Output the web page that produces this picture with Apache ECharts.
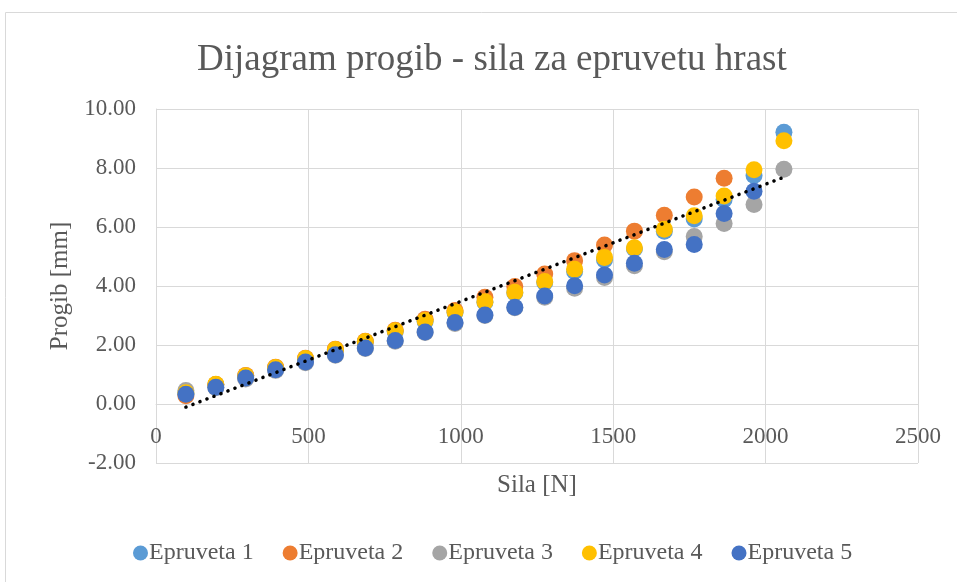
<!DOCTYPE html>
<html>
<head>
<meta charset="utf-8">
<script src="https://cdn.jsdelivr.net/npm/echarts@6/dist/echarts.min.js"></script>
<style>html,body{margin:0;padding:0;background:#fff;}#c{width:957px;height:582px;}</style>
</head>
<body>
<div id="c"></div>
<script>
// Force values [N] (x)
const force = [98.1, 196.2, 294.3, 392.4, 490.5, 588.6, 686.7, 784.8, 882.9, 981.0, 1079.1,
  1177.2, 1275.3, 1373.4, 1471.5, 1569.6, 1667.7, 1765.8, 1863.9, 1962.0, 2060.1];
// Deflection [mm] per specimen
const epruveta1 = [0.36, 0.65, 0.95, 1.22, 1.52, 1.82, 2.10, 2.46, 2.80, 3.10, 3.45,
  3.76, 4.12, 4.49, 4.88, 5.26, 5.86, 6.27, 6.93, 7.75, 9.21];
const epruveta2 = [0.28, 0.66, 0.97, 1.25, 1.55, 1.86, 2.13, 2.50, 2.87, 3.17, 3.62,
  3.98, 4.41, 4.86, 5.39, 5.86, 6.40, 7.02, 7.65];
const epruveta3 = [0.46, 0.55, 0.85, 1.14, 1.40, 1.65, 1.88, 2.13, 2.42, 2.73, 3.00,
  3.26, 3.62, 3.92, 4.29, 4.69, 5.16, 5.68, 6.12, 6.76, 7.96];
const epruveta4 = [0.38, 0.67, 0.96, 1.24, 1.54, 1.85, 2.12, 2.48, 2.83, 3.12, 3.47,
  3.79, 4.15, 4.57, 4.97, 5.30, 5.92, 6.38, 7.05, 7.94, 8.92];
const epruveta5 = [0.33, 0.57, 0.88, 1.16, 1.42, 1.67, 1.90, 2.15, 2.44, 2.76, 3.02,
  3.28, 3.66, 4.01, 4.37, 4.77, 5.24, 5.41, 6.46, 7.21];
const seriesNames = ['Epruveta 1', 'Epruveta 2', 'Epruveta 3', 'Epruveta 4', 'Epruveta 5'];
const seriesValues = [epruveta1, epruveta2, epruveta3, epruveta4, epruveta5];
const colors = ['#5B9BD5', '#ED7D31', '#A5A5A5', '#FFC000', '#4472C4'];
const yMin = -2, yMax = 10, yStep = 2;
const xMin = 0, xMax = 2500, xStep = 500;

const FONT = '"Liberation Serif", "Times New Roman", serif';
const TXT = '#595959';

function pairs(vals) { return vals.map((v, i) => [force[i], v]); }

// linear least-squares trendline of Epruveta 4
function trend(vals) {
  const n = vals.length, xs = force.slice(0, n);
  const mx = xs.reduce((a, b) => a + b, 0) / n, my = vals.reduce((a, b) => a + b, 0) / n;
  let sxy = 0, sxx = 0;
  for (let i = 0; i < n; i++) { sxy += (xs[i] - mx) * (vals[i] - my); sxx += (xs[i] - mx) ** 2; }
  const b = sxy / sxx, a = my - b * mx;
  return [[xs[0], a + b * xs[0]], [xs[n - 1], a + b * xs[n - 1]]];
}

const gridTop = 109, gridBottom = 119, chartH = 582;
const plotH = chartH - gridTop - gridBottom;
// x axis crosses the y axis at 0: shift it up from the bottom of the plot
const zeroOffset = -plotH * (0 - yMin) / (yMax - yMin);

const chart = echarts.init(document.getElementById('c'), null, { renderer: 'canvas' });
const series = seriesNames.map((name, i) => ({
  name, type: 'scatter', data: pairs(seriesValues[i]), symbol: 'circle', symbolSize: 17,
  itemStyle: { color: colors[i], opacity: 1 }, z: 2 + i
}));
series.push({
  type: 'line', data: trend(epruveta4), showSymbol: false, silent: true, z: 10,
  lineStyle: { color: '#000', width: 3.5, type: [0.1, 7.4], cap: 'round' }
});

chart.setOption({
  animation: false,
  color: colors,
  graphic: [{ type: 'rect', shape: { x: 5.5, y: 12.5, width: 980, height: 600 },
    style: { fill: 'none', stroke: '#d9d9d9', lineWidth: 1 }, z: -1 }],
  title: { text: 'Dijagram progib - sila za epruvetu hrast', left: 192, top: 37,
    textStyle: { fontFamily: FONT, fontSize: 37, fontWeight: 'normal', color: TXT } },
  legend: { data: seriesNames, left: 128, top: 536, icon: 'circle', itemWidth: 15, itemHeight: 15,
    itemGap: 29, textStyle: { fontFamily: FONT, fontSize: 24, color: TXT, padding: [0, 0, 0, -4] } },
  grid: { left: 156, right: 39, top: gridTop, bottom: gridBottom, containLabel: false },
  xAxis: {
    type: 'value', min: xMin, max: xMax, interval: xStep, offset: zeroOffset,
    name: 'Sila [N]', nameLocation: 'middle', nameGap: 69,
    nameTextStyle: { fontFamily: FONT, fontSize: 25, color: TXT },
    axisLine: { onZero: false, lineStyle: { color: '#d9d9d9', width: 1 } },
    axisTick: { show: false },
    axisLabel: { fontFamily: FONT, fontSize: 23, color: TXT, margin: 21, formatter: v => String(v) },
    splitLine: { show: true, lineStyle: { color: '#d9d9d9', width: 1 } }
  },
  yAxis: {
    type: 'value', min: yMin, max: yMax, interval: yStep,
    name: 'Progib [mm]', nameLocation: 'middle', nameGap: 82,
    nameTextStyle: { fontFamily: FONT, fontSize: 25, color: TXT },
    axisLine: { show: true, onZero: false, lineStyle: { color: '#d9d9d9', width: 1 } },
    axisTick: { show: false },
    axisLabel: { fontFamily: FONT, fontSize: 23, color: TXT, margin: 20,
      formatter: v => v.toFixed(2) },
    splitLine: { show: true, lineStyle: { color: '#d9d9d9', width: 1 } }
  },
  series
});
</script>
</body>
</html>
